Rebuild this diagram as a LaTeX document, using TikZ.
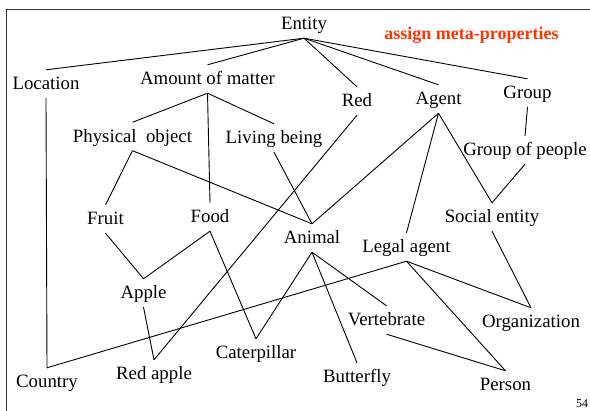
\documentclass[tikz,border=0pt]{standalone}
\usepackage{fontspec}
\setmainfont{Liberation Serif}
\definecolor{metared}{RGB}{255,51,0}
\begin{document}
\begin{tikzpicture}[x=1pt,y=-1pt,
  concept/.style={font=\fontsize{18.8}{22}\selectfont, inner xsep=1pt, inner ysep=0pt,
                  text height=20pt, text depth=8pt, anchor=base},
  link/.style={line width=0.9pt, black},
  frame/.style={line width=1.6pt, black!80}]
\useasboundingbox (0,0) rectangle (590,411);
% slide frame (top and left edges)
\draw[frame] (6.5,411) -- (6.5,9.5) -- (590,9.5);

% concepts
\node[concept] (entity)       at (304,30)    {Entity};
\node[concept] (location)     at (46,90)     {Location};
\node[concept] (matter)       at (207.5,85)  {Amount of matter};
\node[concept] (red)          at (357,107)   {Red};
\node[concept] (agent)        at (438.5,105) {Agent};
\node[concept] (group)        at (527.5,99)  {Group};
\node[concept] (physobj)      at (132.5,142.5) {Physical\ \ object};
\node[concept] (living)       at (274,144)   {Living being};
\node[concept] (people)       at (525,156)   {Group of people};
\node[concept] (fruit)        at (105.5,225) {Fruit};
\node[concept] (food)         at (210,223)   {Food};
\node[concept] (social)       at (492,223)   {Social entity};
\node[concept] (animal)       at (312,244)   {Animal};
\node[concept] (legal)        at (406.5,253) {Legal agent};
\node[concept] (apple)        at (143.5,299) {Apple};
\node[concept] (vertebrate)   at (386.5,326) {Vertebrate};
\node[concept] (organization) at (531,328)   {Organization};
\node[concept] (caterpillar)  at (256,359)   {Caterpillar};
\node[concept] (redapple)     at (154,380)   {Red apple};
\node[concept] (butterfly)    at (357,383)   {Butterfly};
\node[concept] (country)      at (47,388)    {Country};
\node[concept] (person)       at (505.5,391) {Person};

% heading and page number
\node[font=\bfseries\fontsize{18}{22}\selectfont, text=metared, anchor=base] (meta) at (471.5,40) {assign meta-properties};
\node[font=\fontsize{12}{14}\selectfont, anchor=base, inner sep=0pt] (page) at (582,408) {54};

% subsumption links
\draw[link] (entity.south) -- (location.north);
\draw[link] (entity.south) -- (matter.north);
\draw[link] (entity.south) -- (red.north);
\draw[link] (entity.south) -- (agent.north);
\draw[link] (entity.south) -- (group.north);

\draw[link] (matter.south) -- (physobj.north);
\draw[link] (matter.south) -- (living.north);
\draw[link] (matter.south) -- (food.north);

\draw[link] (physobj.south) -- (fruit.north);
\draw[link] (physobj.south) -- (animal.north);
\draw[link] (living.south) -- (animal.north);

\draw[link] (agent.south) -- (animal.north);
\draw[link] (agent.south) -- (legal.north);
\draw[link] (agent.south) -- (social.north);

\draw[link] (group.south) -- (people.north);
\draw[link] (people.south) -- (social.north);

\draw[link] (fruit.south) -- (apple.north);
\draw[link] (food.south) -- (apple.north);
\draw[link] (food.south) -- (caterpillar.north);

\draw[link] (apple.south) -- (redapple.north);
\draw[link] (red.south) -- (redapple.north);

\draw[link] (animal.south) -- (caterpillar.north);
\draw[link] (animal.south) -- (butterfly.north);
\draw[link] (animal.south) -- (vertebrate.north);

\draw[link] (location.south) -- (country.north) -- (legal.south);
\draw[link] (legal.south) -- (organization.north);
\draw[link] (legal.south) -- (person.north);
\draw[link] (social.south) -- (organization.north);
\draw[link] (vertebrate.south) -- (person.north);
\end{tikzpicture}
\end{document}
